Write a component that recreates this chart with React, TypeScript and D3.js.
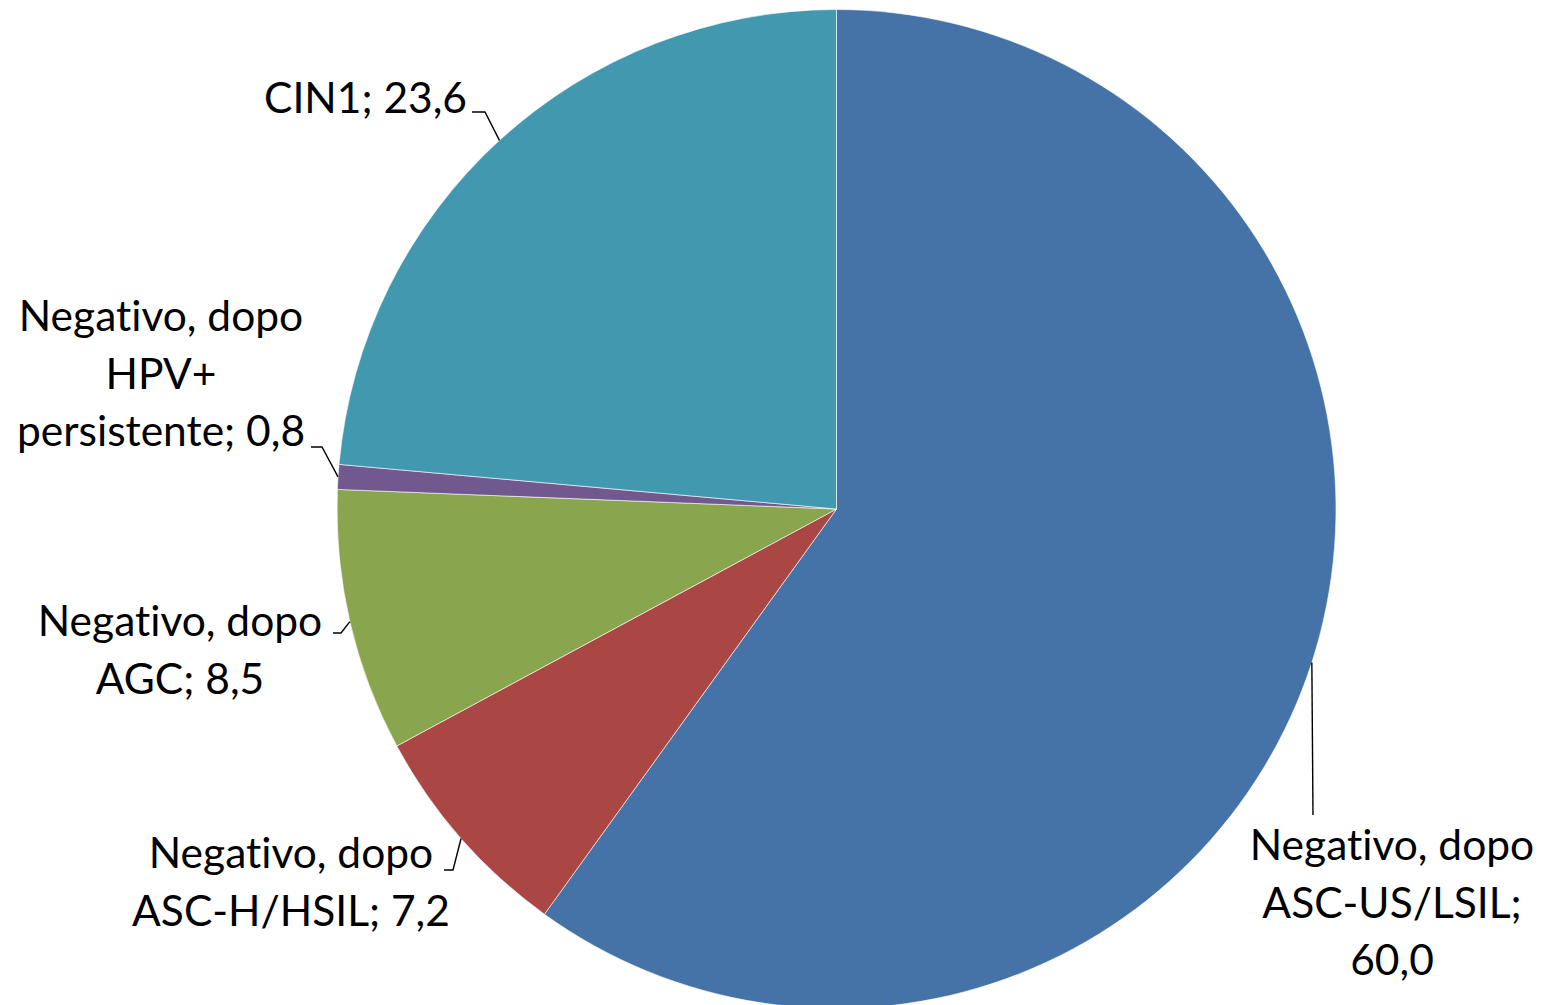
import React from "react";
import * as d3 from "d3";

const categories = [
  "Negativo, dopo ASC-US/LSIL",
  "Negativo, dopo ASC-H/HSIL",
  "Negativo, dopo AGC",
  "Negativo, dopo HPV+ persistente",
  "CIN1",
];
const values = [60.0, 7.2, 8.5, 0.8, 23.6];
const valueLabels = ["60,0", "7,2", "8,5", "0,8", "23,6"];
const labelLines = [
  ["Negativo, dopo", "ASC-US/LSIL;", "60,0"],
  ["Negativo, dopo", "ASC-H/HSIL; 7,2"],
  ["Negativo, dopo", "AGC; 8,5"],
  ["Negativo, dopo", "HPV+", "persistente; 0,8"],
  ["CIN1; 23,6"],
];
const colors = ["#4572A7", "#AA4643", "#89A54E", "#71588F", "#4198AF"];

// layout: text anchor x, first baseline y, knee point, horizontal end
const labelLayout = [
  { tx: 1392, ty: 860, anchor: "middle", knee: [1313, 815], end: [1313, 815] },
  { tx: 291, ty: 868, anchor: "middle", knee: [453, 870], end: [444, 870] },
  { tx: 180, ty: 636, anchor: "middle", knee: [341, 633], end: [333, 633] },
  { tx: 161, ty: 331, anchor: "middle", knee: [322, 447], end: [311, 447] },
  { tx: 467, ty: 113, anchor: "end", knee: [485, 112], end: [472, 112] },
];

const W = 1554;
const H = 1005;
const cx = 836.5;
const cy = 509;
const R = 499.5;
const lineH = 57.5;

export default function App() {
  const pie = d3.pie<number>().sort(null).value((d) => d);
  const arcs = pie(values);
  const arc = d3.arc<d3.PieArcDatum<number>>().innerRadius(0).outerRadius(R);

  return (
    <svg
      width={W}
      height={H}
      style={{ position: "absolute", left: 0, top: 0, display: "block", background: "#fff" }}
    >
      <g transform={`translate(${cx},${cy})`}>
        {arcs.map((a, i) => (
          <path
            key={categories[i]}
            d={arc(a) || ""}
            fill={colors[i]}
            stroke="#ffffff"
            strokeOpacity={0.6}
            strokeWidth={1}
          />
        ))}
      </g>
      {arcs.map((a, i) => {
        const mid = (a.startAngle + a.endAngle) / 2;
        const px = cx + R * Math.sin(mid);
        const py = cy - R * Math.cos(mid);
        const L = labelLayout[i];
        const pts = [[px, py], L.knee, L.end];
        return (
          <g key={"lab" + i}>
            <path
              d={d3.line()(pts as [number, number][]) || ""}
              fill="none"
              stroke="#000"
              strokeWidth={1.4}
            />
            <text
              x={L.tx}
              y={L.ty}
              textAnchor={L.anchor}
              fontFamily="Lato, 'Open Sans', sans-serif"
              fontSize={42.5}
              fill="#000"
              textRendering="optimizeSpeed"
              style={{
                fontVariantLigatures: "none",
                fontFeatureSettings: '"liga" 0, "clig" 0, "dlig" 0, "calt" 0',
              }}
            >
              {labelLines[i].map((ln, j) => (
                <tspan key={j} x={L.tx} y={L.ty + j * lineH}>
                  {ln}
                </tspan>
              ))}
            </text>
          </g>
        );
      })}
    </svg>
  );
}
